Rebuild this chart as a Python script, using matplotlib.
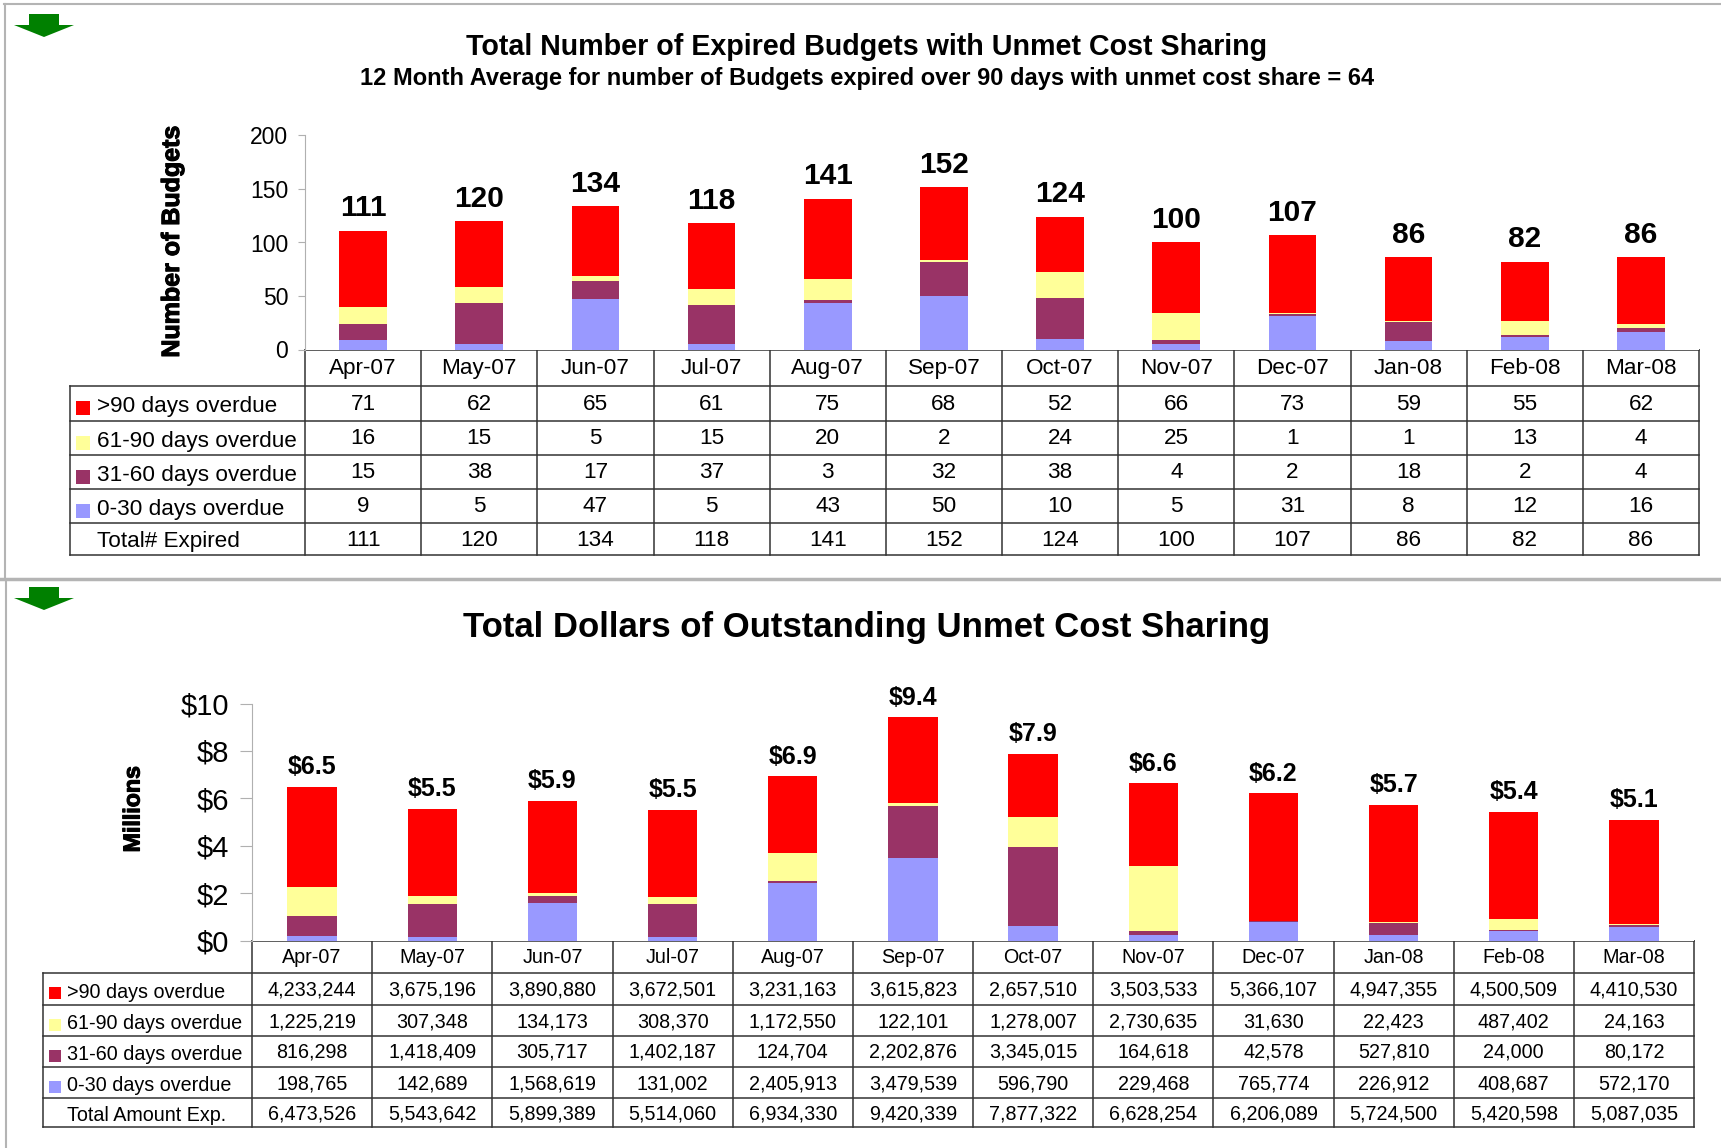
import numpy as np
import matplotlib
matplotlib.use('Agg')
from matplotlib import pyplot as plt
from matplotlib import patheffects as pe

months = ['Apr-07', 'May-07', 'Jun-07', 'Jul-07', 'Aug-07', 'Sep-07', 'Oct-07', 'Nov-07', 'Dec-07', 'Jan-08', 'Feb-08', 'Mar-08']
series_names = ['>90 days overdue', '61-90 days overdue', '31-60 days overdue', '0-30 days overdue']
colors = ['#ff0000', '#ffff99', '#993366', '#9999ff']

# ---------------------------- budgets counts -----------------------
over90 = [71, 62, 65, 61, 75, 68, 52, 66, 73, 59, 55, 62]
d61_90 = [16, 15, 5, 15, 20, 2, 24, 25, 1, 1, 13, 4]
d31_60 = [15, 38, 17, 37, 3, 32, 38, 4, 2, 18, 2, 4]
d0_30 = [9, 5, 47, 5, 43, 50, 10, 5, 31, 8, 12, 16]
total = [111, 120, 134, 118, 141, 152, 124, 100, 107, 86, 82, 86]

# ---------------------------- dollars -----------------------
usd_over90 = [4233244, 3675196, 3890880, 3672501, 3231163, 3615823, 2657510, 3503533, 5366107, 4947355, 4500509, 4410530]
usd_61_90 = [1225219, 307348, 134173, 308370, 1172550, 122101, 1278007, 2730635, 31630, 22423, 487402, 24163]
usd_31_60 = [816298, 1418409, 305717, 1402187, 124704, 2202876, 3345015, 164618, 42578, 527810, 24000, 80172]
usd_0_30 = [198765, 142689, 1568619, 131002, 2405913, 3479539, 596790, 229468, 765774, 226912, 408687, 572170]
usd_total = [6473526, 5543642, 5899389, 5514060, 6934330, 9420339, 7877322, 6628254, 6206089, 5724500, 5420598, 5087035]
usd_labels = ['$6.5', '$5.5', '$5.9', '$5.5', '$6.9', '$9.4', '$7.9', '$6.6', '$6.2', '$5.7', '$5.4', '$5.1']

W, H = 1721, 1148
plt.rcParams['font.family'] = ['Liberation Sans', 'DejaVu Sans']
fig = plt.figure(figsize=(W / 100, H / 100), dpi=100)

# overlay in pixel coordinates for frames, arrows, table rules
bg = fig.add_axes([0, 0, 1, 1])
bg.set_xlim(0, W)
bg.set_ylim(H, 0)
bg.axis('off')

heavy = [pe.withStroke(linewidth=0.8, foreground='black')]


def px_axes(left, top, right, bottom):
    return fig.add_axes([left / W, 1 - bottom / H, (right - left) / W, (bottom - top) / H])


def draw_arrow(y):
    bg.fill([29, 59, 59, 74, 44, 14, 29], [y, y, y + 11, y + 11, y + 23, y + 11, y + 11], color='#008000', lw=0)


def draw_bars(ax, stack, labels, ymax, yticks, yticklabels, tick_len, tick_size, tick_pad, val_size, val_off):
    x = np.arange(12)
    base = np.zeros(12)
    # stack is bottom-up
    for vals, c in zip(stack, colors[::-1]):
        ax.bar(x, vals, 0.41, bottom=base, color=c, lw=0)
        base += np.array(vals)
    ax.set_xlim(-0.5, 11.5)
    ax.set_ylim(0, ymax)
    ax.set_yticks(yticks)
    ax.set_yticklabels(yticklabels, fontsize=tick_size)
    ax.set_xticks([])
    ax.tick_params(axis='y', length=tick_len, color='#b0b0b0', pad=tick_pad)
    for s in ['top', 'right', 'bottom']:
        ax.spines[s].set_visible(False)
    ax.spines['left'].set_color('#b0b0b0')
    for i in range(12):
        ax.annotate(labels[i], (x[i], base[i]), xytext=(0, val_off), textcoords='offset points',
                    ha='center', va='bottom', fontsize=val_size, fontweight='bold')


def draw_table(left, col_left, col_w, rows, row_text, last_name, text_size, swatch, name_x):
    right = col_left + 12 * col_w
    line = dict(color='#333333', lw=1.1)
    bg.plot([col_left, right], [rows[0], rows[0]], **line)
    for r in rows[1:]:
        bg.plot([left, right], [r, r], **line)
    for i in range(13):
        bg.plot([col_left + i * col_w] * 2, [rows[0], rows[-1]], **line)
    bg.plot([left, left], [rows[1], rows[-1]], **line)
    for i, m in enumerate(months):
        bg.text(col_left + (i + 0.5) * col_w, (rows[0] + rows[1]) / 2 + 1, m, ha='center', va='center', fontsize=text_size)
    for j, vals in enumerate(row_text):
        ym = (rows[j + 1] + rows[j + 2]) / 2
        for i, v in enumerate(vals):
            bg.text(col_left + (i + 0.5) * col_w, ym + 1, v, ha='center', va='center', fontsize=text_size)
        if j < 4:
            name = series_names[j]
            bg.fill([left + 6, left + 6 + swatch, left + 6 + swatch, left + 6],
                    [ym - 2, ym - 2, ym - 2 + swatch, ym - 2 + swatch], color=colors[j], lw=0)
        else:
            name = last_name
        bg.text(name_x, ym + 3, name, ha='left', va='center', fontsize=text_size)


# outer frames
bg.plot([4, W], [4, 4], color='#b4b4b4', lw=1.5)
bg.plot([4.5, 4.5], [4, 578], color='#b4b4b4', lw=1.5)
bg.plot([0, W], [579, 579], color='#b4b4b4', lw=2.5)
bg.plot([6, 6], [580, H], color='#b4b4b4', lw=1.5)
draw_arrow(14)
draw_arrow(587)

# top panel
ax1 = px_axes(305, 135.5, 1699, 349.5)
draw_bars(ax1, [d0_30, d31_60, d61_90, over90], [str(v) for v in total], 200, [0, 50, 100, 150, 200],
          ['0', '50', '100', '150', '200'], 5, 16.5, 7, 21.5, 6)
text1 = [[str(v) for v in s] for s in [over90, d61_90, d31_60, d0_30, total]]
draw_table(70, 305, 116.17, [349.5, 385.5, 421, 455, 489, 523, 555], text1, 'Total# Expired', 16.2, 14, 97)
bg.text(866.5, 47, 'Total Number of Expired Budgets with Unmet Cost Sharing', ha='center', va='center', fontsize=20.6, fontweight='bold')
bg.text(867, 79, '12 Month Average for number of Budgets expired over 90 days with unmet cost share = 64', ha='center', va='center', fontsize=17, fontweight='bold')
bg.text(172, 241.5, 'Number of Budgets', rotation=90, ha='center', va='center', fontsize=18, fontweight='bold', path_effects=heavy)

# bottom panel
ax2 = px_axes(252, 703.5, 1694, 940.5)
draw_bars(ax2, [usd_0_30, usd_31_60, usd_61_90, usd_over90], usd_labels, 10000000,
          [0, 2000000, 4000000, 6000000, 8000000, 10000000], ['$0', '$2', '$4', '$6', '$8', '$10'], 9, 21, 7.5, 18, 5.5)
fmt = lambda s: ['{:,}'.format(v) for v in s]
text2 = [fmt(s) for s in [usd_over90, usd_61_90, usd_31_60, usd_0_30, usd_total]]
draw_table(43, 252, 120.17, [940.5, 973, 1005, 1036, 1067, 1098, 1127], text2, 'Total Amount Exp.', 14.2, 12, 67)
bg.text(867, 627, 'Total Dollars of Outstanding Unmet Cost Sharing', ha='center', va='center', fontsize=25, fontweight='bold')
bg.text(133, 809.5, 'Millions', rotation=90, ha='center', va='center', fontsize=16.7, fontweight='bold', path_effects=heavy)

fig.savefig('out.png', dpi=100)
